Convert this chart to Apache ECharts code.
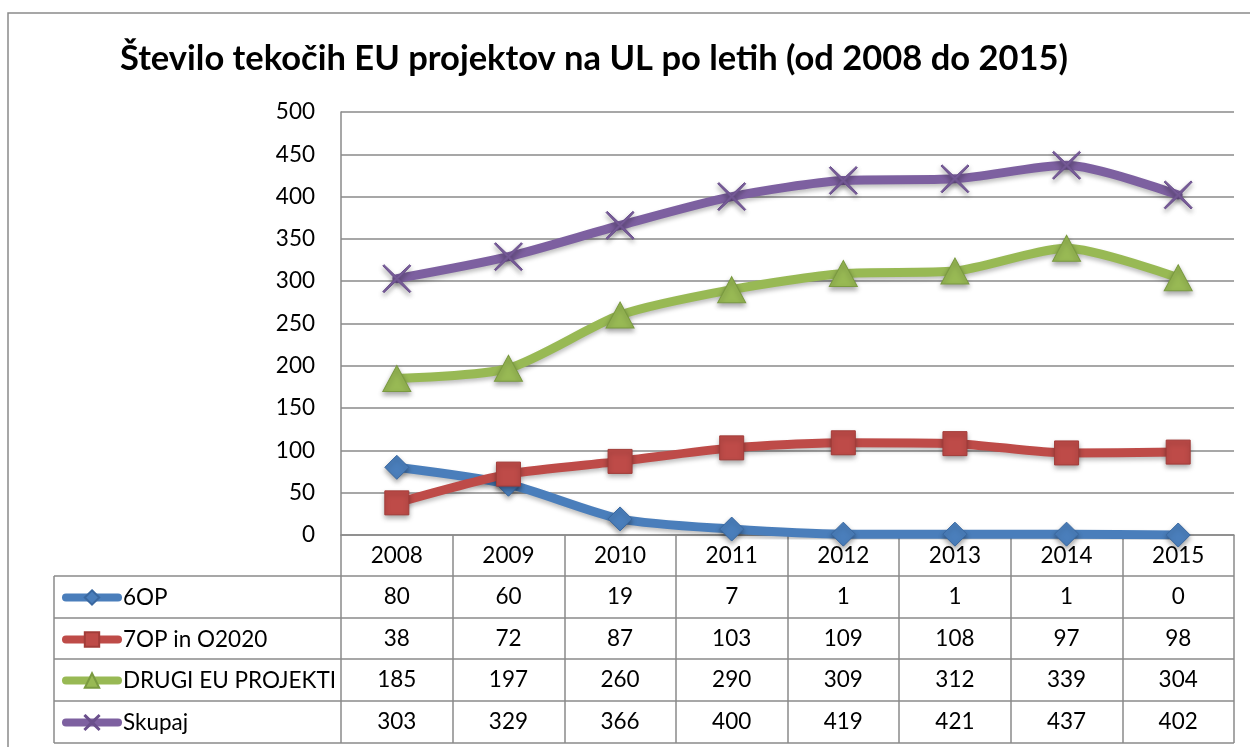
<!DOCTYPE html>
<html>
<head>
<meta charset="utf-8">
<script src="https://cdn.jsdelivr.net/npm/echarts@6/dist/echarts.min.js"></script>
<style>
  html, body { margin: 0; padding: 0; background: #fff; }
  #chart { width: 1250px; height: 747px; }
</style>
</head>
<body>
<div id="chart"></div>
<script>
// podatki
var years = ['2008', '2009', '2010', '2011', '2012', '2013', '2014', '2015'];
var names = ['6OP', '7OP in O2020', 'DRUGI EU PROJEKTI', 'Skupaj'];
var op6 = [80, 60, 19, 7, 1, 1, 1, 0];
var op7 = [38, 72, 87, 103, 109, 108, 97, 98];
var drugi = [185, 197, 260, 290, 309, 312, 339, 304];
var skupaj = [303, 329, 366, 400, 419, 421, 437, 402];
var yTicks = [0, 50, 100, 150, 200, 250, 300, 350, 400, 450, 500];

var colors = ['#4a7ebb', '#be4b48', '#98b954', '#7d60a0'];
var borders = ['#3a68a0', '#a23c39', '#7a9a40', '#6a4f8c'];
var symbols = ['diamond', 'rect', 'triangle',
    'path://M1,0 L12,10.5 L23,0 L24,1 L13.5,12 L24,23 L23,24 L12,13.5 L1,24 L0,23 L10.5,12 L0,1 Z'];
var sizes = [24, 24, [28, 26], 28];
var allData = [op6, op7, drugi, skupaj];

var font = 'Lato, "Liberation Sans", sans-serif';
var gridColor = '#8a8a8a';
var fs = 22.5;

// postavitev tabele
var plotL = 341, plotR = 1234, plotT = 112, plotB = 535;
var rowLines = [576, 618, 659, 701, 743];
var rowCenters = [597, 639, 680, 722];
var tableL = 54;

var chart = echarts.init(document.getElementById('chart'));

var xAxes = [{
    type: 'category',
    data: years,
    position: 'bottom',
    boundaryGap: true,
    axisLine: { show: true, lineStyle: { color: gridColor, width: 1.5 } },
    axisTick: { show: true, interval: 0, length: 743 - plotB, lineStyle: { color: gridColor, width: 1.5 } },
    axisLabel: { interval: 0, margin: 21, verticalAlign: 'middle', fontSize: fs, color: '#000', fontFamily: font }
}];
allData.forEach(function (arr, i) {
    xAxes.push({
        type: 'category',
        data: arr.map(String),
        position: 'bottom',
        offset: rowCenters[i] - plotB,
        boundaryGap: true,
        axisLine: { show: false },
        axisTick: { show: false },
        axisLabel: { interval: 0, margin: 0, verticalAlign: 'middle', fontSize: fs, color: '#000', fontFamily: font }
    });
});

var series = allData.map(function (arr, i) {
    return {
        name: names[i],
        type: 'line',
        xAxisIndex: 0,
        data: arr,
        smooth: 0.25,
        symbol: symbols[i],
        symbolSize: sizes[i],
        lineStyle: {
            color: colors[i], width: 9, cap: 'round', join: 'round',
            shadowColor: 'rgba(0,0,0,0.25)', shadowBlur: 4, shadowOffsetY: 3
        },
        itemStyle: {
            color: colors[i], borderColor: borders[i], borderWidth: 1,
            shadowColor: 'rgba(0,0,0,0.35)', shadowBlur: 5, shadowOffsetY: 3
        },
        z: 2 + i
    };
});

var legends = names.map(function (n, i) {
    return {
        data: [n],
        left: 62,
        top: rowCenters[i] - 11,
        padding: 0,
        itemWidth: 52,
        itemHeight: 18,
        itemGap: 0,
        selectedMode: false,
        lineStyle: { width: 8, cap: 'round' },
        itemStyle: { shadowBlur: 0, shadowOffsetY: 0 },
        textStyle: { fontSize: fs, lineHeight: 22, color: '#000', fontFamily: font }
    };
});

var graphics = [{
    type: 'rect',
    shape: { x: 8, y: 13, width: 1260, height: 760 },
    style: { fill: null, stroke: '#8a8a8a', lineWidth: 1.5 },
    silent: true, z: -1
}, {
    type: 'line',
    shape: { x1: tableL, y1: rowLines[0], x2: tableL, y2: rowLines[4] },
    style: { stroke: gridColor, lineWidth: 1.5 }, silent: true
}];
rowLines.forEach(function (y) {
    graphics.push({
        type: 'line',
        shape: { x1: tableL, y1: y, x2: plotR, y2: y },
        style: { stroke: gridColor, lineWidth: 1.5 }, silent: true
    });
});

var option = {
    animation: false,
    backgroundColor: '#fff',
    color: colors,
    title: {
        text: 'Število tekočih EU projektov na UL po letih (od 2008 do 2015)',
        left: 594,
        textAlign: 'center',
        top: 40,
        padding: 0,
        textStyle: { fontSize: 34.5, fontWeight: 'bold', color: '#000', fontFamily: font, lineHeight: 38 }
    },
    legend: legends,
    grid: { left: plotL, right: 1250 - plotR, top: plotT, bottom: 747 - plotB, containLabel: false },
    xAxis: xAxes,
    yAxis: {
        type: 'value',
        min: yTicks[0],
        max: yTicks[yTicks.length - 1],
        interval: 50,
        axisLine: { show: true, lineStyle: { color: gridColor, width: 1.5 } },
        axisTick: { show: false },
        splitLine: { show: true, lineStyle: { color: gridColor, width: 1.5 } },
        axisLabel: { margin: 26, fontSize: fs, color: '#000', fontFamily: font }
    },
    graphic: graphics,
    series: series
};

chart.setOption(option);
</script>
</body>
</html>
